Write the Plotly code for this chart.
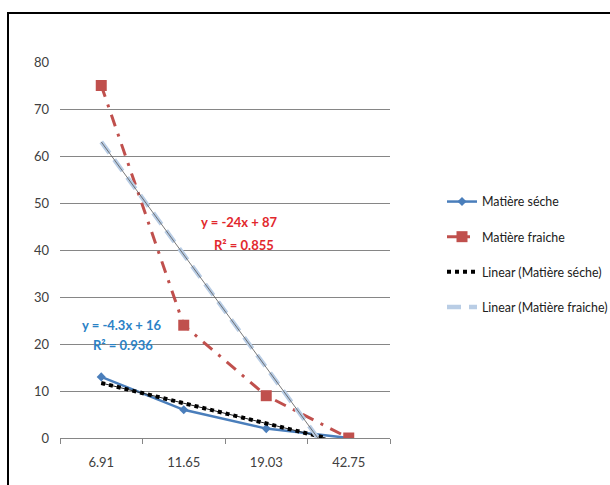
import numpy as np
import plotly.graph_objects as go

categories = ["6.91", "11.65", "19.03", "42.75"]
seche = [13, 6, 2, 0]
fraiche = [75, 24, 9, 0]
y_ticks = [0, 10, 20, 30, 40, 50, 60, 70, 80]

FONT = "Lato, sans-serif"
W, H = 610, 485
ML, MR, MT, MB = 60, 220, 62, 47
PW, PH = W - ML - MR, H - MT - MB


def px(x):
    return (x - ML) / PW


def py(y):
    return (H - MB - y) / PH


def trend(vals):
    xs = np.arange(1, len(vals) + 1)
    slope, intercept = np.polyfit(xs, vals, 1)
    x_end = min(xs[-1], -intercept / slope) if slope < 0 else xs[-1]
    tx = np.array([xs[0], x_end])
    ty = slope * tx + intercept
    return tx - 1, ty


fig = go.Figure()

fig.add_trace(go.Scatter(
    x=categories, y=seche, name="Matière séche", mode="lines+markers",
    line=dict(color="#4a7ebb", width=2.5),
    marker=dict(symbol="diamond", size=7, color="#4a7ebb"),
    legendgroup="a", legendrank=1))
fig.add_trace(go.Scatter(
    x=categories, y=fraiche, name="Matière fraiche", mode="lines+markers",
    line=dict(color="#c0504d", width=3, dash="12px,8px,3px,8px"),
    marker=dict(symbol="square", size=11, color="#c0504d"),
    legendgroup="b", legendrank=2))

tx, ty = trend(seche)
fig.add_trace(go.Scatter(
    x=tx, y=ty, xaxis="x2", mode="lines", showlegend=False,
    line=dict(color="#222222", width=1), hoverinfo="skip"))
fig.add_trace(go.Scatter(
    x=tx, y=ty, xaxis="x2", mode="lines", name="Linear (Matière séche)",
    line=dict(color="black", width=4, dash="4px,4px"),
    legendgroup="c", legendrank=3))

tx2, ty2 = trend(fraiche)
fig.add_trace(go.Scatter(
    x=tx2, y=ty2, xaxis="x2", mode="lines", name="Linear (Matière fraiche)",
    line=dict(color="#b9cde5", width=4.5, dash="14px,8px"),
    legendgroup="d", legendrank=4))
fig.add_trace(go.Scatter(
    x=tx2, y=ty2, xaxis="x2", mode="lines", showlegend=False,
    line=dict(color="#555555", width=0.8), hoverinfo="skip"))

ann = []
for txt, x, y, col in [
    ("y = -24x + 87", 239, 222, "#e2282d"),
    ("R² = 0.855", 244, 245, "#e2282d"),
    ("y = -4.3x + 16", 122, 325, "#2b82c6"),
    ("R² = 0.936", 123, 345, "#2b82c6"),
]:
    ann.append(dict(text="<b>" + txt + "</b>", x=px(x), y=py(y), xref="paper", yref="paper",
                    showarrow=False, xanchor="center", yanchor="middle",
                    font=dict(family=FONT, size=13, color=col)))

fig.update_layout(
    width=W, height=H,
    margin=dict(l=ML, r=MR, t=MT, b=MB, autoexpand=False),
    paper_bgcolor="white", plot_bgcolor="white",
    font=dict(family=FONT, size=12, color="#404040"),
    xaxis=dict(type="category", categoryorder="array", categoryarray=categories,
               range=[-0.5, 3.5], tickson="boundaries", ticks="outside", ticklen=5,
               tickcolor="#868686", showline=True, linecolor="#868686", linewidth=1,
               showgrid=False, zeroline=False, ticklabelstandoff=12,
               tickfont=dict(family=FONT, size=13, color="#404040")),
    xaxis2=dict(overlaying="x", range=[-0.5, 3.5], visible=False),
    yaxis=dict(range=[0, 80], tickvals=y_ticks, showgrid=True, gridcolor="#868686",
               gridwidth=1, zeroline=False, showline=False, ticks="",
               ticklabelstandoff=10,
               tickfont=dict(family=FONT, size=13, color="#404040")),
    legend=dict(xref="container", yref="container", x=442 / W, y=1 - 187 / H,
                xanchor="left", yanchor="top",
                tracegroupgap=16, font=dict(family=FONT, size=12.4, color="#202020"),
                bgcolor="rgba(0,0,0,0)"),
    annotations=ann,
    shapes=[dict(type="rect", xref="paper", yref="paper",
                 x0=px(8), y0=py(H + 5), x1=px(W + 5), y1=py(13),
                 line=dict(color="black", width=2), layer="above")],
)

fig.write_html("out.html")
